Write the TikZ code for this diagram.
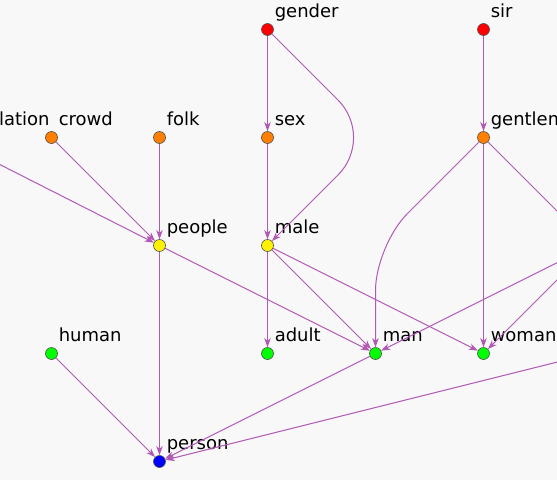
\documentclass[tikz,border=0pt]{standalone}
\usepackage{fontspec}
\setmainfont{DejaVu Sans}
\usepackage{tikz}
\usetikzlibrary{arrows.meta}

\definecolor{bgcol}{HTML}{F8F8F8}
\definecolor{edgecol}{RGB}{176,90,180}
\definecolor{rimcol}{RGB}{80,80,80}

\begin{document}
\begin{tikzpicture}[x=1pt,y=-1pt,
      ->,>={Stealth[length=9pt,width=6.5pt,inset=2.5pt]},
      every edge/.style={draw=edgecol,line width=1pt},
      word/.style={circle,draw=rimcol,line width=0.6pt,minimum size=12pt,inner sep=0pt},
      tag/.style={label={[inner sep=0pt,text depth=0pt,label distance=0pt,
          xshift=2.6pt,yshift=7.6pt,font=\fontsize{18}{18}\selectfont]above right:#1}},
      top/.style={word,fill=red},
      mid/.style={word,fill={rgb,255:red,255;green,127;blue,0}},
      low/.style={word,fill=yellow},
      leaf/.style={word,fill={rgb,255:red,0;green,255;blue,0}},
      root/.style={word,fill=blue}]
      \path[use as bounding box,fill=bgcol] (-0.5,-0.5) rectangle (556.5,479.5);
      \clip (-0.5,-0.5) rectangle (556.5,479.5);

      \node[top,tag=gender] (gender) at (267, 29) {};
      \node[top,tag=sir] (sir) at (483, 29) {};

      \node[mid,tag=population] (population) at (-54, 137) {};
      \node[mid,tag=crowd] (crowd) at ( 51, 137) {};
      \node[mid,tag=folk] (folk) at (159, 137) {};
      \node[mid,tag=sex] (sex) at (267, 137) {};
      \node[mid,tag=gentleman] (gentleman) at (483, 137) {};

      \node[low,tag=people] (people) at (159, 245) {};
      \node[low,tag=male] (male) at (267, 245) {};
      \coordinate (offright) at (591, 245);

      \node[leaf,tag=human] (human) at ( 51, 353) {};
      \node[leaf,tag=adult] (adult) at (267, 353) {};
      \node[leaf,tag=man] (man) at (375, 353) {};
      \node[leaf,tag=woman] (woman) at (483, 353) {};
      \coordinate (offlow) at (591, 353);

      \node[root,tag=person] (person) at (159, 461) {};

      \path
      (population) edge (people)
      (crowd) edge (people)
      (folk) edge (people)

      (gender) edge (sex)
      (sex) edge (male)

      (sir) edge (gentleman)
      (gentleman) edge (woman)
      (gentleman) edge (offright)

      (people) edge (person)
      (people) edge (man)
      (male) edge (adult)
      (male) edge (man)
      (male) edge (woman)

      (offright) edge (man)
      (offright) edge (woman)

      (human) edge (person)
      (man) edge (person)
      (offlow) edge (person)
      ;

      % the two bent ones
      \draw[edgecol,line width=1pt,rounded corners=53pt]
      (gender) -- (375, 137) -- (male);
      \draw[edgecol,line width=1pt,rounded corners=45pt]
      (gentleman) -- (375, 245) -- (man);

      \end{tikzpicture}
\end{document}
